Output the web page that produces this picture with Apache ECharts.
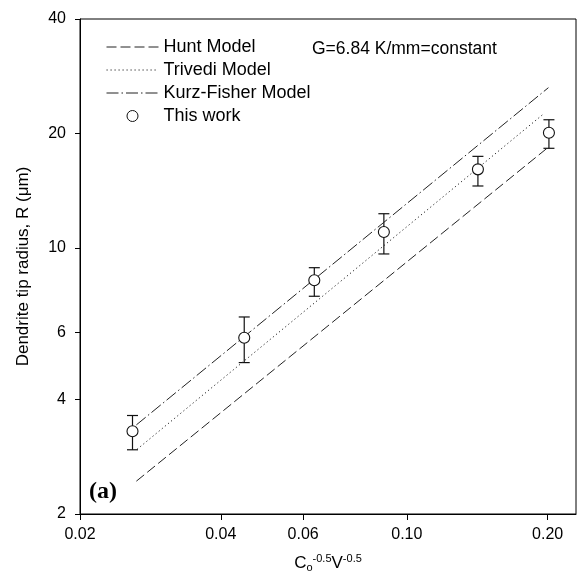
<!DOCTYPE html>
<html><head><meta charset="utf-8">
<script src="https://cdn.jsdelivr.net/npm/echarts@6/dist/echarts.min.js"></script>
<style>html,body{margin:0;padding:0;background:#fff}#c{width:579px;height:580px}</style>
</head><body><div id="c"></div>
<script>
const xTicks = [0.02, 0.04, 0.06, 0.10, 0.20];
const yTicks = [2, 4, 6, 10, 20, 40];
const seriesNames = ['Hunt Model', 'Trivedi Model', 'Kurz-Fisher Model', 'This work'];
const huntLine = [[0.0264, 2.44], [0.2006, 18.4]];
const trivediLine = [[0.0265, 2.96], [0.195, 22.4]];
const kurzLine = [[0.0264, 3.43], [0.2008, 26.4]];
const workX = [0.0259, 0.0449, 0.0634, 0.0893, 0.1419, 0.2013];
const workR = [3.30, 5.81, 8.23, 11.02, 16.1, 20.1];
const workLow = [2.95, 5.0, 7.47, 9.65, 14.56, 18.29];
const workHigh = [3.63, 6.59, 8.88, 12.31, 17.42, 21.74];

const FONT = '"Liberation Sans", Arial, sans-serif';
const chart = echarts.init(document.getElementById('c'), null, {renderer: 'canvas'});
const axisCommon = {
  axisLine: {show: true, onZero: false, lineStyle: {color: '#000', width: 1}},
  splitLine: {show: false},
  minorTick: {show: false},
  nameTextStyle: {color: '#000', fontFamily: FONT, fontSize: 17}
};
const legendData = seriesNames.map((n, i) => i < 3
  ? {name: n, itemStyle: {opacity: 0, color: 'transparent', borderWidth: 0}}
  : {name: n, itemStyle: {color: '#fff', borderColor: '#111', borderWidth: 1}});
chart.setOption({
  animation: false,
  backgroundColor: '#fff',
  grid: {left: 80, right: 3, top: 19, bottom: 66, show: true, borderColor: '#000', borderWidth: 1},
  legend: {
    data: legendData,
    orient: 'vertical',
    left: 101,
    top: 33,
    itemWidth: 52,
    itemHeight: 11,
    itemGap: 5,
    selectedMode: false,
    lineStyle: {width: 1},
    textStyle: {fontFamily: FONT, fontSize: 18, color: '#000', lineHeight: 18}
  },
  xAxis: Object.assign({}, axisCommon, {
    type: 'log', logBase: 10, min: 0.02, max: 0.23,
    axisTick: {show: true, inside: false, length: 6, customValues: xTicks, lineStyle: {color: '#000'}},
    axisLabel: {customValues: xTicks, formatter: v => Number(v).toFixed(2), margin: 13, fontSize: 16, color: '#000', fontFamily: FONT},
    name: '{m|C}{sub|o}{sup|-0.5}{m|V}{sup|-0.5}',
    nameLocation: 'middle', nameGap: 39,
    nameTextStyle: {
      color: '#000', fontFamily: FONT, fontSize: 17,
      rich: {
        m: {fontFamily: FONT, fontSize: 17, lineHeight: 20, verticalAlign: 'middle', color: '#000'},
        sup: {fontFamily: FONT, fontSize: 11, lineHeight: 10, verticalAlign: 'top', color: '#000'},
        sub: {fontFamily: FONT, fontSize: 11, lineHeight: 8, verticalAlign: 'bottom', color: '#000'}
      }
    }
  }),
  yAxis: Object.assign({}, axisCommon, {
    type: 'log', logBase: 10, min: 2, max: 40,
    axisTick: {show: true, inside: false, length: 5, customValues: yTicks, lineStyle: {color: '#000'}},
    axisLabel: {customValues: yTicks, formatter: v => String(Math.round(v)), margin: 14, fontSize: 16, color: '#000', fontFamily: FONT},
    name: 'Dendrite tip radius, R (\u03bcm)',
    nameLocation: 'middle', nameGap: 48
  }),
  graphic: [
    {type: 'text', left: 312, top: 40, style: {text: 'G=6.84 K/mm=constant', fontFamily: FONT, fontSize: 17.5, fill: '#000'}},
    {type: 'text', left: 89, top: 480, style: {text: '(a)', fontFamily: '"Liberation Serif", "Times New Roman", serif', fontWeight: 'bold', fontSize: 24, fill: '#000'}}
  ],
  series: [
    {name: seriesNames[0], type: 'line', data: huntLine, symbol: 'none', silent: true,
     lineStyle: {type: [10, 4], width: 1, color: '#222'}, itemStyle: {color: '#222'}},
    {name: seriesNames[1], type: 'line', data: trivediLine, symbol: 'none', silent: true,
     lineStyle: {type: [1.2, 2.8], width: 1, color: '#222'}, itemStyle: {color: '#222'}},
    {name: seriesNames[2], type: 'line', data: kurzLine, symbol: 'none', silent: true,
     lineStyle: {type: [12, 3, 1.5, 3], width: 1, color: '#222'}, itemStyle: {color: '#222'}},
    {name: 'errorbars', type: 'custom', silent: true, z: 3,
     data: workX.map((x, i) => [x, workLow[i], workHigh[i]]),
     encode: {x: 0, y: [1, 2]},
     renderItem: function (params, api) {
       const x = api.value(0);
       const lo = api.coord([x, api.value(1)]);
       const hi = api.coord([x, api.value(2)]);
       const w = 5.5;
       const st = {stroke: '#111', lineWidth: 1.2};
       return {type: 'group', children: [
         {type: 'line', shape: {x1: hi[0], y1: hi[1], x2: lo[0], y2: lo[1]}, style: st},
         {type: 'line', shape: {x1: hi[0] - w, y1: hi[1], x2: hi[0] + w, y2: hi[1]}, style: st},
         {type: 'line', shape: {x1: lo[0] - w, y1: lo[1], x2: lo[0] + w, y2: lo[1]}, style: st}
       ]};
     }},
    {name: seriesNames[3], type: 'scatter', z: 5, silent: true,
     data: workX.map((x, i) => [x, workR[i]]),
     symbol: 'circle', symbolSize: 11,
     itemStyle: {color: '#fff', borderColor: '#111', borderWidth: 1.1, opacity: 1}}
  ]
});
</script>
</body></html>
